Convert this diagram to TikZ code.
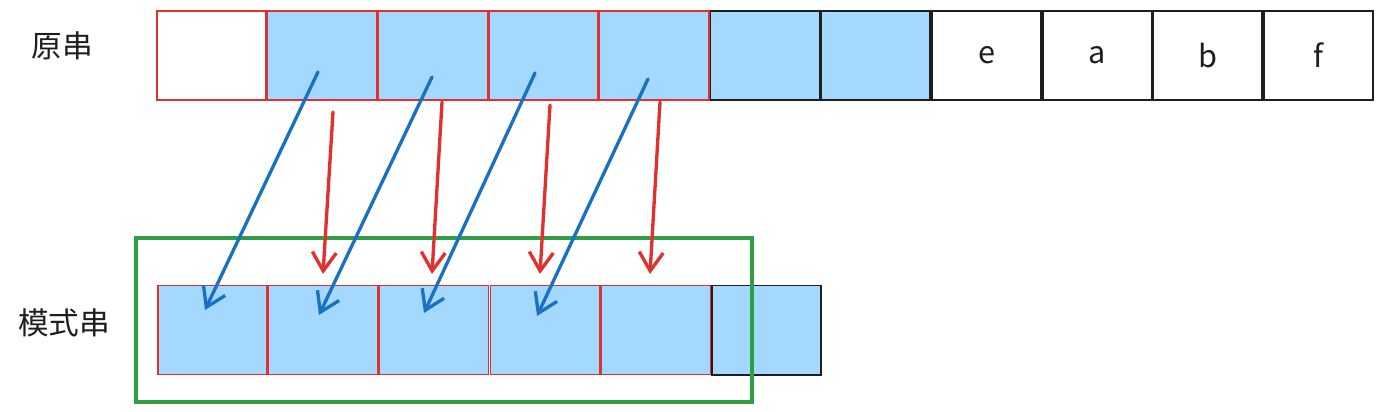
\documentclass[tikz,border=0pt]{standalone}
\usepackage{fontspec}
\usepackage{tikz}
\usetikzlibrary{arrows.meta}
\newfontfamily\cjk{Noto Sans CJK SC}
\definecolor{cellblue}{HTML}{A5D8FF}
\definecolor{mred}{HTML}{E03131}
\definecolor{mblue}{HTML}{1971C2}
\definecolor{mgreen}{HTML}{2F9E44}
\definecolor{ink}{HTML}{1E1E1E}

\begin{document}
\begin{tikzpicture}[
  x=0.75pt, y=-0.75pt,
  font=\cjk\fontsize{23}{27}\selectfont,
  cell/.style={draw=ink,line width=1.35pt,minimum width=81.7pt,minimum height=66.9pt,inner sep=0pt,text=ink},
  hit/.style={cell,fill=cellblue},
  redc/.style={cell,draw=mred,line width=1.15pt,minimum width=81.9pt},
  redh/.style={redc,fill=cellblue},
  lab/.style={text=ink},
  >={Straight Barb[length=14pt,width=18pt,line width=2.5pt]},
  slide/.style={->,mblue,line width=2.5pt,line cap=round},
  match/.style={->,mred,line width=2.5pt,line cap=round},
  win/.style={draw=mgreen,line width=2.6pt}
]
\useasboundingbox (0,0) rectangle (1384,411);

% ---------------- text row ----------------
\node[lab] (tlab) at (62,46) {原串};
\node[redc] (s0) at (211.4,55.5)  {};
\node[redh] (s1) at (322.1,55.5)  {};
\node[redh] (s2) at (432.8,55.5)  {};
\node[redh] (s3) at (543.5,55.5)  {};
\node[redh] (s4) at (654.3,55.5)  {};
\node[hit] (s5)  at (765.0,55.5)  {};
\node[hit] (s6)  at (875.7,55.5)  {};
\node[cell] (s7) at (986.5,55.5)  {e};
\node[cell] (s8) at (1097.2,55.5) {a};
\node[cell] (s9) at (1207.9,55.5) {b};
\node[cell] (s10) at (1318.6,55.5) {f};

% ---------------- pattern row ----------------
\node[lab] (plab) at (64,323) {模式串};
\node[redh] (p0) at (212.4,330) {};
\node[redh] (p1) at (323.2,330) {};
\node[redh] (p2) at (434.1,330) {};
\node[redh] (p3) at (544.9,330) {};
\node[redh] (p4) at (655.7,330) {};
\node[hit] (p5)  at (766.6,330) {};

% ---------------- window ----------------
\draw[win] (136,238) rectangle (752,402);

% ---------------- slides (blue) ----------------
\coordinate (b1s) at (318,72);  \coordinate (b1e) at (205,310);
\coordinate (b2s) at (432,77);  \coordinate (b2e) at (319,315);
\coordinate (b3s) at (535,73);  \coordinate (b3e) at (424,313);
\coordinate (b4s) at (648,79);  \coordinate (b4e) at (537,316);
\draw[slide] (b1s) -- (b1e);
\draw[slide] (b2s) -- (b2e);
\draw[slide] (b3s) -- (b3e);
\draw[slide] (b4s) -- (b4e);

% ---------------- matches (red) ----------------
\coordinate (r1s) at (333,112); \coordinate (r1e) at (323,274);
\coordinate (r2s) at (442,102); \coordinate (r2e) at (432,274);
\coordinate (r3s) at (550,105); \coordinate (r3e) at (540,274);
\coordinate (r4s) at (660,102); \coordinate (r4e) at (650,274);
\draw[match] (r1s) -- (r1e);
\draw[match] (r2s) -- (r2e);
\draw[match] (r3s) -- (r3e);
\draw[match] (r4s) -- (r4e);
\end{tikzpicture}
\end{document}
